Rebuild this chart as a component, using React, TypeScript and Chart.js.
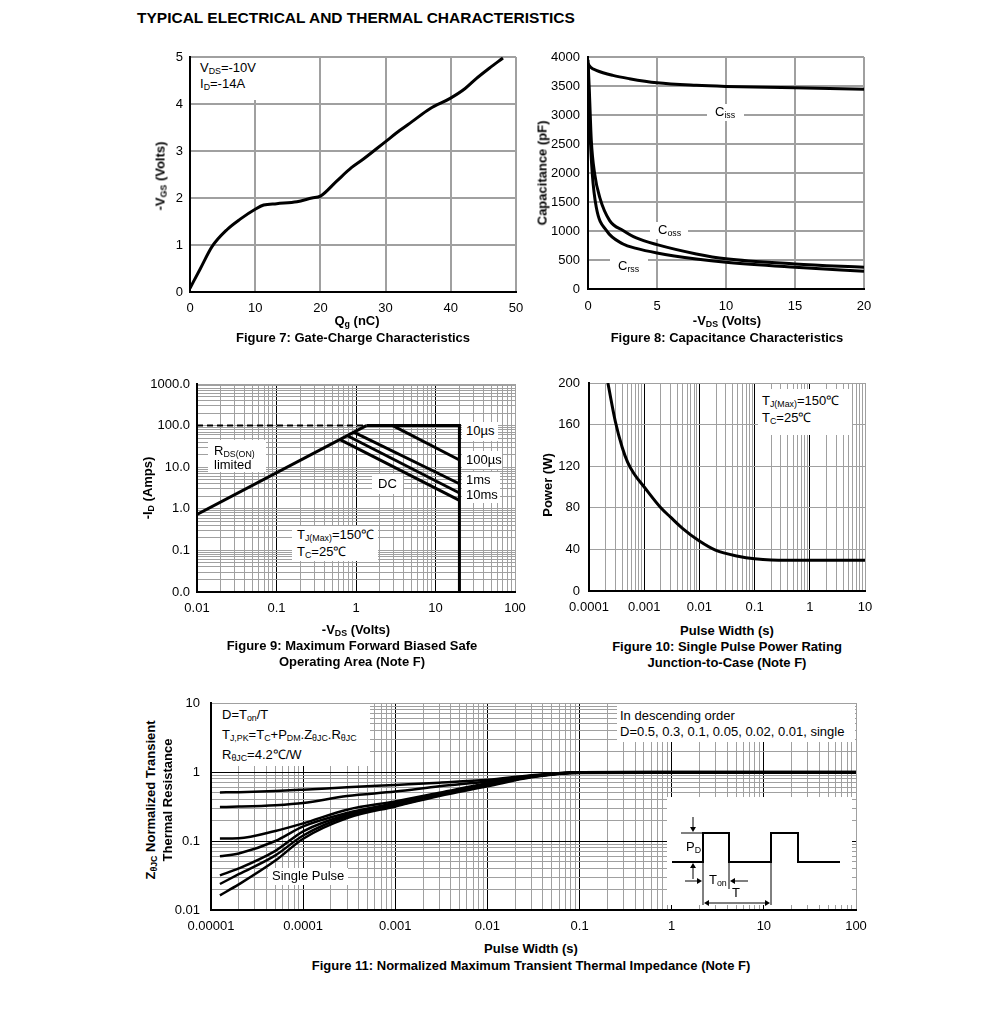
import React, { useEffect, useRef } from "react";
import { Chart, registerables } from "chart.js";

Chart.register(...registerables);

const FONT = '"Liberation Sans", Arial, Helvetica, sans-serif';
const GRID = "#a0a0a0";

// ---------- Figure 7: Gate charge ----------
const gateCharge = [0, 1.6, 3.4, 5.7, 7.7, 10, 11.3, 13.3, 16.4, 18.7, 20, 22.5, 24.8, 26.6, 29.9, 32.2, 34, 36.8, 39.9, 42.2, 43.9, 45.9, 48];
const gateVoltage = [0.08, 0.5, 0.97, 1.33, 1.55, 1.76, 1.85, 1.88, 1.92, 2.0, 2.04, 2.36, 2.65, 2.83, 3.19, 3.44, 3.62, 3.9, 4.12, 4.33, 4.54, 4.76, 4.98];
const fig7XTicks = [0, 10, 20, 30, 40, 50];
const fig7YTicks = [0, 1, 2, 3, 4, 5];

// ---------- Figure 8: Capacitance ----------
const cissVds = [0, 0.2, 0.6, 1.8, 3, 5, 7.85, 10, 15, 20];
const cissPf = [3880, 3820, 3770, 3683, 3626, 3555, 3511, 3493, 3470, 3442];
const cossVds = [0, 0.1, 0.24, 0.48, 0.85, 1.57, 2.54, 3.5, 5, 7.85, 10, 15, 20];
const cossPf = [3950, 3400, 2560, 1990, 1580, 1180, 1010, 880, 765, 605, 520, 432, 374];
const crssVds = [0, 0.06, 0.12, 0.31, 0.6, 1.33, 2.54, 3.5, 5, 7.85, 10, 15, 20];
const crssPf = [3900, 3300, 2850, 1990, 1410, 1010, 777, 700, 622, 518, 460, 374, 305];
const fig8XTicks = [0, 5, 10, 15, 20];
const fig8YTicks = [0, 500, 1000, 1500, 2000, 2500, 3000, 3500, 4000];

// ---------- Figure 9: Safe operating area ----------
const soaRdsV = [0.01, 1.35];
const soaRdsI = [0.73, 100];
const soaLimitV = [0.01, 1.35];
const soaLimitI = [100, 100];
const soa10usV = [1.35, 20, 20];
const soa10usI = [100, 100, 0.01];
const soa100usV = [2.9, 20];
const soa100usI = [100, 14.9];
const soa1msV = [0.95, 20];
const soa1msI = [69, 4.0];
const soa10msV = [0.78, 20];
const soa10msI = [57, 2.4];
const soaDcV = [0.63, 20];
const soaDcI = [46, 1.6];
const fig9XDecades = [0.01, 0.1, 1, 10, 100];
const fig9XLabels = ["0.01", "0.1", "1", "10", "100"];
const fig9YDecades = [0.01, 0.1, 1, 10, 100, 1000];
const fig9YLabels = ["0.0", "0.1", "1.0", "10.0", "100.0", "1000.0"];

// ---------- Figure 10: Single pulse power ----------
const pulseWidth10 = [0.00022, 0.0003, 0.0004, 0.0005, 0.00065, 0.001, 0.002, 0.003, 0.005, 0.01, 0.02, 0.05, 0.1, 0.2, 1, 10];
const pulsePower = [200, 163, 138, 124, 113, 100, 80, 71, 60, 48, 39, 33.5, 31, 29.9, 29.6, 29.6];
const fig10XDecades = [0.0001, 0.001, 0.01, 0.1, 1, 10];
const fig10XLabels = ["0.0001", "0.001", "0.01", "0.1", "1", "10"];
const fig10YTicks = [0, 40, 80, 120, 160, 200];

// ---------- Figure 11: Transient thermal impedance ----------
const fig11Width = [1.25e-5, 2e-5, 5e-5, 1e-4, 3e-4, 1e-3, 3e-3, 1e-2, 3e-2, 0.1, 1, 10, 100];
const zD05 = [0.506, 0.51, 0.53, 0.554, 0.6, 0.65, 0.7, 0.77, 0.9, 0.995, 1.0, 1.0, 1.0];
const zD03 = [0.311, 0.315, 0.33, 0.355, 0.45, 0.52, 0.62, 0.73, 0.88, 0.99, 1.0, 1.0, 1.0];
const zD01 = [0.109, 0.11, 0.14, 0.18, 0.284, 0.375, 0.5, 0.69, 0.87, 0.985, 0.995, 0.995, 0.995];
const zD005 = [0.06, 0.066, 0.1, 0.163, 0.255, 0.355, 0.48, 0.67, 0.86, 0.98, 0.99, 0.99, 0.99];
const zD002 = [0.0317, 0.04, 0.072, 0.138, 0.24, 0.336, 0.47, 0.655, 0.85, 0.98, 0.985, 0.985, 0.985];
const zD001 = [0.0238, 0.033, 0.062, 0.12, 0.228, 0.325, 0.46, 0.64, 0.85, 0.975, 0.98, 0.98, 0.98];
const zSingle = [0.0163, 0.0235, 0.052, 0.108, 0.215, 0.317, 0.45, 0.62, 0.84, 0.97, 0.975, 0.975, 0.975];
const fig11XDecades = [0.00001, 0.0001, 0.001, 0.01, 0.1, 1, 10, 100];
const fig11XLabels = ["0.00001", "0.0001", "0.001", "0.01", "0.1", "1", "10", "100"];
const fig11YDecades = [0.01, 0.1, 1, 10];
const fig11YLabels = ["0.01", "0.1", "1", "10"];

type TickDef = { value: number; label: string; dark: boolean };
type Geom = { l: number; t: number; r: number; b: number; ml: number; mr: number; mt: number; mb: number };

function linTicks(values: number[]): TickDef[] {
  return values.map((v) => ({ value: v, label: String(v), dark: false }));
}

function logTicks(decades: number[], labels: string[], darkInner: boolean): TickDef[] {
  const out: TickDef[] = [];
  for (let i = 0; i < decades.length - 1; i++) {
    for (let m = 1; m <= 9; m++) {
      out.push({ value: m * decades[i], label: m === 1 ? labels[i] : "", dark: m === 1 && i > 0 && darkInner });
    }
  }
  out.push({ value: decades[decades.length - 1], label: labels[labels.length - 1], dark: false });
  return out;
}

function makeScale(kind: string, ticks: TickDef[], pad: number, fit: number, horizontal: boolean, gridWidth: number) {
  return {
    type: kind,
    min: ticks[0].value,
    max: ticks[ticks.length - 1].value,
    afterBuildTicks: (s: any) => {
      s.ticks = ticks.map((t) => ({ value: t.value, dark: t.dark }));
    },
    afterFit: (s: any) => {
      if (horizontal) s.height = fit;
      else s.width = fit;
    },
    ticks: {
      autoSkip: false,
      maxRotation: 0,
      minRotation: 0,
      padding: pad,
      color: "#000",
      font: { family: FONT, size: 13 },
      callback: (_v: any, i: number) => (ticks[i] ? ticks[i].label : ""),
    },
    grid: {
      drawTicks: false,
      color: (c: any) => (c.tick && c.tick.dark ? "#000" : GRID),
      lineWidth: gridWidth,
    },
    border: { display: true, color: "#000", width: 2 },
  };
}

function series(xs: number[], ys: number[], extra: any = {}) {
  return {
    data: xs.map((x, i) => ({ x, y: ys[i] })),
    showLine: true,
    borderColor: "#000",
    backgroundColor: "#000",
    borderWidth: 3,
    pointRadius: 0,
    fill: false,
    tension: 0,
    ...extra,
  };
}

function buildConfig(g: Geom, datasets: any[], xScale: any, yScale: any) {
  return {
    type: "scatter",
    data: { datasets },
    options: {
      responsive: false,
      animation: false,
      devicePixelRatio: 1,
      events: [],
      layout: { padding: { left: 0, top: g.mt, right: g.mr, bottom: 0 } },
      plugins: { legend: { display: false }, tooltip: { enabled: false }, title: { display: false } },
      scales: { x: xScale, y: yScale },
    },
  };
}

const g7: Geom = { l: 190, t: 57, r: 516, b: 292, ml: 50, mr: 20, mt: 22, mb: 30 };
const g8: Geom = { l: 588, t: 57, r: 864, b: 289, ml: 50, mr: 20, mt: 22, mb: 30 };
const g9: Geom = { l: 197, t: 384, r: 515, b: 592, ml: 55, mr: 20, mt: 22, mb: 30 };
const g10: Geom = { l: 589, t: 383, r: 865, b: 591, ml: 50, mr: 20, mt: 22, mb: 30 };
const g11: Geom = { l: 211, t: 703, r: 856, b: 910, ml: 50, mr: 25, mt: 22, mb: 30 };

function canvasStyle(g: Geom): React.CSSProperties {
  return { position: "absolute", left: g.l - g.ml, top: g.t - g.mt };
}
function cw(g: Geom) {
  return g.r - g.l + g.ml + g.mr;
}
function ch(g: Geom) {
  return g.b - g.t + g.mt + g.mb;
}

const Sub = ({ children }: { children: React.ReactNode }) => (
  <span style={{ fontSize: "0.68em", position: "relative", top: "0.28em" }}>{children}</span>
);

const T = ({ x, y, size = 13, bold = false, center = false, children }: any) => (
  <div
    style={{
      position: "absolute",
      left: x,
      top: y,
      transform: center ? "translate(-50%, -50%)" : "translate(0, -50%)",
      fontSize: size,
      fontWeight: bold ? "bold" : "normal",
      lineHeight: 1.15,
      whiteSpace: "nowrap",
    }}
  >
    {children}
  </div>
);

const RT = ({ x, y, size = 13, children }: any) => (
  <div
    style={{
      position: "absolute",
      left: x,
      top: y,
      transform: "translate(-50%, -50%) rotate(-90deg)",
      fontSize: size,
      fontWeight: "bold",
      lineHeight: 1.15,
      whiteSpace: "nowrap",
    }}
  >
    {children}
  </div>
);

const Box = ({ x, y, w, h }: any) => (
  <div style={{ position: "absolute", left: x, top: y, width: w, height: h, background: "#fff" }} />
);

export default function App() {
  const r7 = useRef<HTMLCanvasElement>(null);
  const r8 = useRef<HTMLCanvasElement>(null);
  const r9 = useRef<HTMLCanvasElement>(null);
  const r10 = useRef<HTMLCanvasElement>(null);
  const r11 = useRef<HTMLCanvasElement>(null);

  useEffect(() => {
    Chart.defaults.font.family = FONT;
    Chart.defaults.color = "#000";
    const charts: Chart[] = [];

    charts.push(
      new Chart(
        r7.current as HTMLCanvasElement,
        buildConfig(
          g7,
          [series(gateCharge, gateVoltage, { cubicInterpolationMode: "monotone" })],
          makeScale("linear", linTicks(fig7XTicks), 9, g7.mb, true, 2),
          makeScale("linear", linTicks(fig7YTicks), 7, g7.ml, false, 2)
        ) as any
      )
    );

    charts.push(
      new Chart(
        r8.current as HTMLCanvasElement,
        buildConfig(
          g8,
          [
            series(cissVds, cissPf, { cubicInterpolationMode: "monotone" }),
            series(cossVds, cossPf, { cubicInterpolationMode: "monotone" }),
            series(crssVds, crssPf, { cubicInterpolationMode: "monotone" }),
          ],
          makeScale("linear", linTicks(fig8XTicks), 10, g8.mb, true, 2),
          makeScale("linear", linTicks(fig8YTicks), 8, g8.ml, false, 2)
        ) as any
      )
    );

    charts.push(
      new Chart(
        r9.current as HTMLCanvasElement,
        buildConfig(
          g9,
          [
            series(soaLimitV, soaLimitI, { borderWidth: 2, borderDash: [6, 4] }),
            series(soaRdsV, soaRdsI),
            series(soa10usV, soa10usI),
            series(soa100usV, soa100usI),
            series(soa1msV, soa1msI),
            series(soa10msV, soa10msI),
            series(soaDcV, soaDcI),
          ],
          makeScale("logarithmic", logTicks(fig9XDecades, fig9XLabels, true), 9, g9.mb, true, 1),
          makeScale("logarithmic", logTicks(fig9YDecades, fig9YLabels, false), 7, g9.ml, false, 1)
        ) as any
      )
    );

    charts.push(
      new Chart(
        r10.current as HTMLCanvasElement,
        buildConfig(
          g10,
          [series(pulseWidth10, pulsePower, { cubicInterpolationMode: "monotone" })],
          makeScale("logarithmic", logTicks(fig10XDecades, fig10XLabels, true), 9, g10.mb, true, 1),
          makeScale("linear", linTicks(fig10YTicks), 9, g10.ml, false, 1)
        ) as any
      )
    );

    const zs = [zD05, zD03, zD01, zD005, zD002, zD001, zSingle];
    charts.push(
      new Chart(
        r11.current as HTMLCanvasElement,
        buildConfig(
          g11,
          zs.map((z) => series(fig11Width, z, { borderWidth: 2.5, cubicInterpolationMode: "monotone" })),
          makeScale("logarithmic", logTicks(fig11XDecades, fig11XLabels, true), 9, g11.mb, true, 1),
          makeScale("logarithmic", logTicks(fig11YDecades, fig11YLabels, true), 11, g11.ml, false, 1)
        ) as any
      )
    );

    return () => {
      charts.forEach((c) => c.destroy());
    };
  }, []);

  return (
    <div
      style={{
        position: "absolute",
        left: 0,
        top: 0,
        width: 991,
        height: 1020,
        background: "#fff",
        fontFamily: FONT,
        color: "#000",
        overflow: "hidden",
      }}
    >
      <canvas ref={r7} width={cw(g7)} height={ch(g7)} style={canvasStyle(g7)} />
      <canvas ref={r8} width={cw(g8)} height={ch(g8)} style={canvasStyle(g8)} />
      <canvas ref={r9} width={cw(g9)} height={ch(g9)} style={canvasStyle(g9)} />
      <canvas ref={r10} width={cw(g10)} height={ch(g10)} style={canvasStyle(g10)} />
      <canvas ref={r11} width={cw(g11)} height={ch(g11)} style={canvasStyle(g11)} />

      <T x={137} y={18} size={15.5} bold>
        TYPICAL ELECTRICAL AND THERMAL CHARACTERISTICS
      </T>

      {/* Figure 7 */}
      <Box x={191} y={58} w={70} h={42} />
      <T x={200} y={68}>
        V<Sub>DS</Sub>=-10V
      </T>
      <T x={200} y={84}>
        I<Sub>D</Sub>=-14A
      </T>
      <T x={357} y={321} bold center>
        Q<Sub>g</Sub> (nC)
      </T>
      <T x={353} y={338} bold center>
        Figure 7: Gate-Charge Characteristics
      </T>
      <RT x={161} y={176}>
        -V<Sub>GS</Sub> (Volts)
      </RT>

      {/* Figure 8 */}
      <Box x={707} y={104} w={37} h={17} />
      <T x={715} y={112}>
        C<Sub>iss</Sub>
      </T>
      <Box x={650} y={222} w={38} h={17} />
      <T x={658} y={230}>
        C<Sub>oss</Sub>
      </T>
      <Box x={610} y={257} w={38} h={17} />
      <T x={618} y={266}>
        C<Sub>rss</Sub>
      </T>
      <T x={727} y={321} bold center>
        -V<Sub>DS</Sub> (Volts)
      </T>
      <T x={727} y={338} bold center>
        Figure 8: Capacitance Characteristics
      </T>
      <RT x={543} y={173}>
        Capacitance (pF)
      </RT>

      {/* Figure 9 */}
      <Box x={462} y={422} w={36} h={19} />
      <T x={466} y={431}>10µs</T>
      <Box x={462} y={451} w={40} h={18} />
      <T x={466} y={460}>100µs</T>
      <Box x={462} y={472} w={38} h={31} />
      <T x={466} y={480}>1ms</T>
      <T x={466} y={495}>10ms</T>
      <Box x={372} y={474} w={31} h={20} />
      <T x={378} y={484}>DC</T>
      <Box x={208} y={440} w={58} h={32} />
      <T x={214} y={451}>
        R<Sub>DS(ON)</Sub>
      </T>
      <T x={214} y={465}>limited</T>
      <Box x={292} y={526} w={86} h={35} />
      <T x={297} y={535}>
        T<Sub>J(Max)</Sub>=150℃
      </T>
      <T x={297} y={552}>
        T<Sub>C</Sub>=25℃
      </T>
      <T x={356} y={630} bold center>
        -V<Sub>DS</Sub> (Volts)
      </T>
      <T x={352} y={646} bold center>
        Figure 9: Maximum Forward Biased Safe
      </T>
      <T x={352} y={662} bold center>
        Operating Area (Note F)
      </T>
      <RT x={148} y={488}>
        -I<Sub>D</Sub> (Amps)
      </RT>

      {/* Figure 10 */}
      <Box x={758} y={389} w={94} h={46} />
      <T x={762} y={401}>
        T<Sub>J(Max)</Sub>=150℃
      </T>
      <T x={762} y={418}>
        T<Sub>C</Sub>=25℃
      </T>
      <T x={727} y={631} bold center>
        Pulse Width (s)
      </T>
      <T x={727} y={647} bold center>
        Figure 10: Single Pulse Power Rating
      </T>
      <T x={727} y={663} bold center>
        Junction-to-Case (Note F)
      </T>
      <RT x={548} y={485}>
        Power (W)
      </RT>

      {/* Figure 11 */}
      <Box x={212} y={704} w={158} h={62} />
      <T x={222} y={715}>
        D=T<Sub>on</Sub>/T
      </T>
      <T x={222} y={735}>
        T<Sub>J,PK</Sub>=T<Sub>C</Sub>+P<Sub>DM</Sub>.Z<Sub>θJC</Sub>.R<Sub>θJC</Sub>
      </T>
      <T x={222} y={755}>
        R<Sub>θJC</Sub>=4.2℃/W
      </T>
      <Box x={617} y={704} w={238} h={38} />
      <T x={620} y={716}>In descending order</T>
      <T x={620} y={732}>D=0.5, 0.3, 0.1, 0.05, 0.02, 0.01, single</T>
      <Box x={268} y={868} w={80} h={17} />
      <T x={272} y={876}>Single Pulse</T>
      <T x={531} y={949} bold center>
        Pulse Width (s)
      </T>
      <T x={531} y={966} bold center>
        Figure 11: Normalized Maximum Transient Thermal Impedance (Note F)
      </T>
      <RT x={151} y={800}>
        Z<Sub>θJC</Sub> Normalized Transient
      </RT>
      <RT x={168} y={800}>
        Thermal Resistance
      </RT>

      {/* Inset: pulse train schematic */}
      <svg
        width={991}
        height={1020}
        style={{ position: "absolute", left: 0, top: 0, pointerEvents: "none" }}
      >
        <rect x={667} y={797} width={185} height={108} fill="#fff" />
        <path d="M672 862 H703 V833 H729 V862 H771 V833 H798 V862 H840" fill="none" stroke="#000" strokeWidth={2} />
        <line x1={681} y1={833} x2={703} y2={833} stroke="#000" strokeWidth={1} />
        <line x1={693} y1={817} x2={693} y2={828} stroke="#000" strokeWidth={1} />
        <polygon points="690,827 696,827 693,832" fill="#000" />
        <line x1={693} y1={879} x2={693} y2={868} stroke="#000" strokeWidth={1} />
        <polygon points="690,868 696,868 693,863" fill="#000" />
        <line x1={703} y1={862} x2={703} y2={905} stroke="#000" strokeWidth={1} />
        <line x1={729} y1={862} x2={729} y2={889} stroke="#000" strokeWidth={1} />
        <line x1={771} y1={862} x2={771} y2={905} stroke="#000" strokeWidth={1} />
        <line x1={685} y1={881} x2={697} y2={881} stroke="#000" strokeWidth={1} />
        <polygon points="697,878 697,884 702,881" fill="#000" />
        <line x1={748} y1={881} x2={735} y2={881} stroke="#000" strokeWidth={1} />
        <polygon points="735,878 735,884 730,881" fill="#000" />
        <line x1={709} y1={903} x2={765} y2={903} stroke="#000" strokeWidth={1} />
        <polygon points="709,900 709,906 704,903" fill="#000" />
        <polygon points="765,900 765,906 770,903" fill="#000" />
      </svg>
      <T x={686} y={847}>
        P<Sub>D</Sub>
      </T>
      <T x={709} y={880}>
        T<Sub>on</Sub>
      </T>
      <T x={736} y={893} center>
        T
      </T>
    </div>
  );
}
